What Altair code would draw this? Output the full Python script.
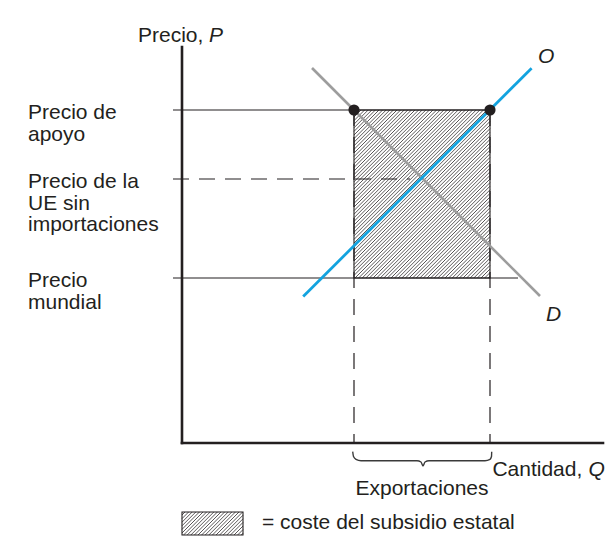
import altair as alt
import pandas as pd

# ---- diagram values (quantity Q, price P in diagram units) ----
P_APOYO = 83.25      # precio de apoyo
P_UE = 66.0          # precio de la UE sin importaciones
P_MUNDIAL = 41.25    # precio mundial
Q_EXPORT = [43.0, 77.0]          # demand / supply at support price
demand_q = [32.5, 89.5]
demand_p = [93.75, 36.75]
supply_q = [30.3, 87.4]
supply_p = [36.6, 93.7]
AXIS_Q_MAX = 105.25
AXIS_P_MAX = 99.0
TICK_Q = -2.25
EU_DASH_END_Q = 57.0
MUNDIAL_END_Q = 84.0

left_labels = [
    ("Precio de", P_APOYO, 0), ("apoyo", P_APOYO, 1),
    ("Precio de la", P_UE, 0), ("UE sin", P_UE, 1), ("importaciones", P_UE, 2),
    ("Precio", P_MUNDIAL, 0), ("mundial", P_MUNDIAL, 1),
]
brace_q = [42.675, 42.875, 43.5, 44.75, 58.75, 59.75, 60.25, 60.75, 61.75, 75.75, 77.0, 77.375, 77.425]
brace_p = [-2.175, -3.375, -4.075, -4.425, -4.425, -4.75, -5.75, -4.75, -4.425, -4.425, -4.075, -3.375, -2.175]
legend_box = (0.0, 15.25, -23.0, -17.25)

DARK = "#231f20"
BLUE = "#13a3df"
GRAY = "#9d9d9d"
FONT = "Liberation Sans"
FS = 21
PX = 4.0          # pixels per diagram unit
LINE_H = 21.5     # label line height in px
HATCH_STEP = 0.9
HATCH_W = 0.75

X = alt.Scale(domain=[-43.5, 106.5], nice=False, zero=False)
Y = alt.Scale(domain=[-24.75, 108.75], nice=False, zero=False)


def enc(**kw):
    e = dict(x=alt.X("q:Q", scale=X, axis=None), y=alt.Y("p:Q", scale=Y, axis=None))
    e.update(kw)
    return e


def hatch_segments(q0, q1, p0, p1, step):
    rows = []
    c = p0 - q1 + step / 2
    while c < p1 - q0:
        qa = max(q0, p0 - c)
        qb = min(q1, p1 - c)
        if qb > qa:
            rows.append({"q": qa, "p": qa + c, "q2": qb, "p2": qb + c})
        c += step
    return pd.DataFrame(rows)


# axes
axes_df = pd.DataFrame([
    {"q": 0, "p": 0, "q2": 0, "p2": AXIS_P_MAX},
    {"q": 0, "p": 0, "q2": AXIS_Q_MAX, "p2": 0},
])
axes = alt.Chart(axes_df).mark_rule(color=DARK, strokeWidth=2.6, strokeCap="square").encode(
    **enc(x2="q2:Q", y2="p2:Q"))

# solid horizontal price lines
hsolid_df = pd.DataFrame([
    {"q": TICK_Q, "p": P_APOYO, "q2": Q_EXPORT[1], "p2": P_APOYO},
    {"q": TICK_Q, "p": P_MUNDIAL, "q2": MUNDIAL_END_Q, "p2": P_MUNDIAL},
])
hsolid = alt.Chart(hsolid_df).mark_rule(color=DARK, strokeWidth=1.2).encode(
    **enc(x2="q2:Q", y2="p2:Q"))

# dashed lines
hdash_df = pd.DataFrame([{"q": TICK_Q, "p": P_UE, "q2": EU_DASH_END_Q, "p2": P_UE}])
hdash = alt.Chart(hdash_df).mark_rule(color=DARK, strokeWidth=1.2, strokeDash=[16, 10]).encode(
    **enc(x2="q2:Q", y2="p2:Q"))
vdash_df = pd.DataFrame([{"q": q, "p": P_APOYO, "q2": q, "p2": 0} for q in Q_EXPORT])
vdash = alt.Chart(vdash_df).mark_rule(color=DARK, strokeWidth=1.2, strokeDash=[16, 11]).encode(
    **enc(x2="q2:Q", y2="p2:Q"))

# hatched subsidy rectangle
hatch_main = alt.Chart(hatch_segments(Q_EXPORT[0], Q_EXPORT[1], P_MUNDIAL, P_APOYO, HATCH_STEP)).mark_rule(
    color=DARK, strokeWidth=HATCH_W).encode(**enc(x2="q2:Q", y2="p2:Q"))
rect_df = pd.DataFrame([{"q": Q_EXPORT[0], "p": P_MUNDIAL, "q2": Q_EXPORT[1], "p2": P_APOYO}])
rect = alt.Chart(rect_df).mark_rect(fill=None, stroke=DARK, strokeWidth=1.1).encode(
    **enc(x2="q2:Q", y2="p2:Q"))

# legend box
lq0, lq1, lp0, lp1 = legend_box
hatch_leg = alt.Chart(hatch_segments(lq0, lq1, lp0, lp1, HATCH_STEP)).mark_rule(
    color=DARK, strokeWidth=HATCH_W).encode(**enc(x2="q2:Q", y2="p2:Q"))
leg_rect = alt.Chart(pd.DataFrame([{"q": lq0, "p": lp0, "q2": lq1, "p2": lp1}])).mark_rect(
    fill=None, stroke=DARK, strokeWidth=1.1).encode(**enc(x2="q2:Q", y2="p2:Q"))

# demand and supply
demand = alt.Chart(pd.DataFrame({"q": demand_q, "p": demand_p})).mark_line(
    color=GRAY, strokeWidth=2.6).encode(**enc())
supply = alt.Chart(pd.DataFrame({"q": supply_q, "p": supply_p})).mark_line(
    color=BLUE, strokeWidth=2.8).encode(**enc())

dots = alt.Chart(pd.DataFrame({"q": Q_EXPORT, "p": [P_APOYO, P_APOYO]})).mark_circle(
    size=125, color=DARK, opacity=1).encode(**enc())

# brace
brace = alt.Chart(pd.DataFrame({"q": brace_q, "p": brace_p, "i": range(len(brace_q))})).mark_line(
    color="#3a3a3a", strokeWidth=1.4, interpolate="monotone").encode(**enc(order="i:Q"))

# texts
lab_df = pd.DataFrame([{"t": t, "q": -38.5, "p": lvl - i * LINE_H / PX} for t, lvl, i in left_labels])
labels = alt.Chart(lab_df).mark_text(align="left", baseline="alphabetic", dy=9, font=FONT,
                                     fontSize=FS, color=DARK).encode(**enc(text="t:N"))

left_df = pd.DataFrame([
    {"t": "Precio,", "q": -11.0, "p": 100.25},
    {"t": "Cantidad,", "q": 77.6, "p": -8.25},
    {"t": "= coste del subsidio estatal", "q": 20.0, "p": -21.5},
])
center_df = pd.DataFrame([{"t": "Exportaciones", "q": 60.0, "p": -13.0}])
reg_left = alt.Chart(left_df).mark_text(
    align="left", baseline="alphabetic", font=FONT, fontSize=FS, color=DARK).encode(**enc(text="t:N"))
reg_center = alt.Chart(center_df).mark_text(
    align="center", baseline="alphabetic", font=FONT, fontSize=FS, color=DARK).encode(**enc(text="t:N"))

ital_df = pd.DataFrame([
    {"t": "P", "q": 6.75, "p": 100.25},
    {"t": "Q", "q": 101.6, "p": -8.25},
    {"t": "O", "q": 89.0, "p": 95.0},
    {"t": "D", "q": 91.0, "p": 30.5},
])
ital = alt.Chart(ital_df).mark_text(align="left", baseline="alphabetic", font=FONT, fontSize=FS,
                                    fontStyle="italic", color=DARK).encode(**enc(text="t:N"))

chart = alt.layer(
    hatch_main, rect, hatch_leg, leg_rect, hsolid, hdash, vdash, axes,
    demand, supply, dots, brace, labels, reg_left, reg_center, ital,
).properties(
    width=600, height=534, padding=0, autosize=alt.AutoSizeParams(type="none"),
    background="white",
).configure_view(stroke=None)

chart.save("out.html", embed_options={"renderer": "svg", "actions": False})
